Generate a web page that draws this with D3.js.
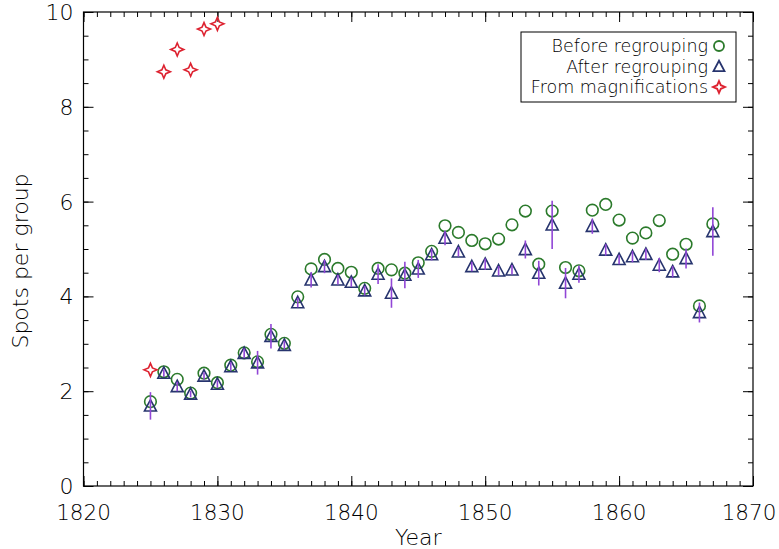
<!DOCTYPE html>
<html><head><meta charset="utf-8">
<script src="https://cdn.jsdelivr.net/npm/d3@7"></script>
<style>body{margin:0;background:#fff}svg{display:block}text{font-family:"DejaVu Sans",sans-serif;fill:#000}</style>
</head><body><svg id="c" width="779" height="549"></svg>
<script>
const years = d3.range(1825, 1868);
const before = [1.78,2.41,2.25,1.96,2.38,2.18,2.55,2.81,2.62,3.20,3.01,3.99,4.58,4.78,4.59,4.51,4.17,4.59,4.56,4.49,4.71,4.95,5.49,5.35,5.18,5.11,5.21,5.51,5.80,4.68,5.80,4.61,4.54,5.82,5.94,5.61,5.23,5.34,5.60,4.89,5.10,3.80,5.53];
const after  = [1.69,2.38,2.10,1.94,2.32,2.15,2.52,2.80,2.60,3.16,2.97,3.87,4.35,4.63,4.35,4.30,4.12,4.47,4.07,4.45,4.58,4.88,5.23,4.94,4.63,4.68,4.54,4.56,4.99,4.49,5.51,4.28,4.47,5.48,4.98,4.78,4.84,4.89,4.66,4.52,4.80,3.66,5.37];
const afterErr = [0.29,0.08,0.10,0.07,0.08,0.08,0.09,0.10,0.25,0.26,0.09,0.10,0.16,0.14,0.10,0.10,0.10,0.21,0.31,0.28,0.19,0.12,0.15,0.10,0.10,0.12,0.10,0.10,0.19,0.26,0.51,0.32,0.18,0.16,0.12,0.10,0.12,0.12,0.15,0.12,0.21,0.21,0.51];
const magYears = [1825,1826,1827,1828,1829,1830];
const magValues = [2.45,8.74,9.21,8.78,9.64,9.75];
const xTicks = [1820,1830,1840,1850,1860,1870];
const yTicks = [0,2,4,6,8,10];
const legendLabels = ["Before regrouping","After regrouping","From magnifications"];

const svg = d3.select("#c");
const L=83.5, R=753, T=12, B=486;
const x = d3.scaleLinear().domain([1820,1870]).range([L,R]);
const y = d3.scaleLinear().domain([0,10]).range([B,T]);

const green="#2b7a2b", navy="#27346e", purple="#9146d6", red="#dd2230";

svg.append("rect").attr("x",L).attr("y",T).attr("width",R-L).attr("height",B-T)
  .attr("fill","none").attr("stroke","#000").attr("stroke-width",1.2);

const fmt = d3.format("d");
svg.append("g").attr("transform",`translate(0,${B})`)
  .call(d3.axisTop(x).tickValues(d3.range(1820,1871,1)).tickSize(5).tickFormat(""));
svg.append("g").attr("transform",`translate(0,${B})`)
  .call(d3.axisTop(x).tickValues(xTicks).tickSize(10).tickFormat(""));
svg.append("g").attr("transform",`translate(0,${T})`)
  .call(d3.axisBottom(x).tickValues(d3.range(1820,1871,1)).tickSize(5).tickFormat(""));
svg.append("g").attr("transform",`translate(0,${T})`)
  .call(d3.axisBottom(x).tickValues(xTicks).tickSize(10).tickFormat(""));
svg.append("g").attr("transform",`translate(${L},0)`)
  .call(d3.axisRight(y).tickValues(d3.range(0,10.01,0.5)).tickSize(5).tickFormat(""));
svg.append("g").attr("transform",`translate(${L},0)`)
  .call(d3.axisRight(y).tickValues(yTicks).tickSize(10).tickFormat(""));
svg.append("g").attr("transform",`translate(${R},0)`)
  .call(d3.axisLeft(y).tickValues(d3.range(0,10.01,0.5)).tickSize(5).tickFormat(""));
svg.append("g").attr("transform",`translate(${R},0)`)
  .call(d3.axisLeft(y).tickValues(yTicks).tickSize(10).tickFormat(""));
svg.selectAll(".domain").remove();
svg.selectAll(".tick line").attr("stroke","#000").attr("stroke-width",1);

svg.append("g").selectAll("text").data(xTicks).join("text")
  .attr("x",d=>Math.min(x(d), 749)).attr("y",B+34).attr("text-anchor","middle").attr("fill","#000")
  .attr("font-size",21.5).attr("font-weight",200).text(fmt);
svg.append("g").selectAll("text").data(yTicks).join("text")
  .attr("x",L-10).attr("y",d=>y(d)+8).attr("text-anchor","end").attr("fill","#000")
  .attr("font-size",22).attr("font-weight",200).text(fmt);

svg.append("text").attr("x",(L+R)/2).attr("y",545).attr("text-anchor","middle").attr("fill","#000")
  .attr("font-size",22).attr("font-weight",200).text("Year");
svg.append("text").attr("transform",`translate(28,${(T+B)/2+12}) rotate(-90)`).attr("fill","#000")
  .attr("text-anchor","middle").attr("font-size",22).attr("font-weight",200).text("Spots per group");

function starPath(cx,cy,r){
  const k=r*0.3;
  return `M${cx},${cy-r} L${cx+k},${cy-k} L${cx+r},${cy} L${cx+k},${cy+k} L${cx},${cy+r} L${cx-k},${cy+k} L${cx-r},${cy} L${cx-k},${cy-k}Z`;
}
function triPath(cx,cy,s){
  const h=s*0.95;
  return `M${cx},${cy-h*0.55} L${cx+s/2},${cy+h*0.45} L${cx-s/2},${cy+h*0.45}Z`;
}

svg.append("g").selectAll("circle").data(years).join("circle")
  .attr("cx",(d)=>x(d)).attr("cy",(d,i)=>y(before[i])).attr("r",5.8)
  .attr("fill","none").attr("stroke",green).attr("stroke-width",1.6);
svg.append("g").selectAll("path").data(years).join("path")
  .attr("d",(d,i)=>triPath(x(d),y(after[i]),12))
  .attr("fill","none").attr("stroke",navy).attr("stroke-width",1.6);
svg.append("g").selectAll("line").data(years).join("line")
  .attr("x1",d=>x(d)).attr("x2",d=>x(d))
  .attr("y1",(d,i)=>y(after[i]+afterErr[i])).attr("y2",(d,i)=>y(after[i]-afterErr[i]))
  .attr("stroke",purple).attr("stroke-width",1.6);
svg.append("g").selectAll("path").data(magYears).join("path")
  .attr("d",(d,i)=>starPath(x(d),y(magValues[i]),6.5))
  .attr("fill","none").attr("stroke",red).attr("stroke-width",1.6);

const lg = svg.append("g");
lg.append("rect").attr("x",521).attr("y",32).attr("width",215).attr("height",70)
  .attr("fill","#fff").attr("stroke","#000").attr("stroke-width",1);
const rowsY=[46,66.5,87];
lg.selectAll("text").data(legendLabels).join("text")
  .attr("x",708).attr("y",(d,i)=>rowsY[i]+6).attr("text-anchor","end").attr("fill","#000")
  .attr("font-size",17.5).attr("font-weight",200).text(d=>d);
lg.append("circle").attr("cx",719).attr("cy",rowsY[0]).attr("r",5).attr("fill","none").attr("stroke",green).attr("stroke-width",1.8);
lg.append("path").attr("d",triPath(719,rowsY[1],11)).attr("fill","none").attr("stroke",navy).attr("stroke-width",1.8);
lg.append("path").attr("d",starPath(719,rowsY[2],6)).attr("fill","none").attr("stroke",red).attr("stroke-width",1.8);
</script></body></html>
